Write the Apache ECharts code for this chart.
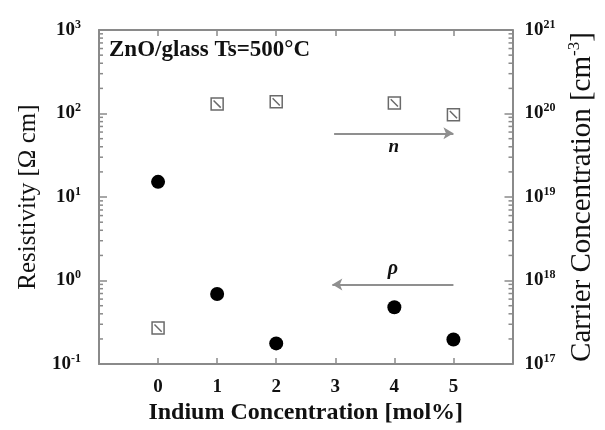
<!DOCTYPE html>
<html><head><meta charset="utf-8">
<script src="https://cdn.jsdelivr.net/npm/echarts@6/dist/echarts.min.js"></script>
<style>html,body{margin:0;padding:0;background:#fff}#c{width:605px;height:430px}</style>
</head><body><div id="c"></div>
<script>
// ---- data ----
const indium = [0, 1, 2, 4, 5];                       // mol%
const resistivity = [15.2, 0.69, 0.177, 0.48, 0.197]; // Ω cm
const carrier = [2.7e17, 1.30e20, 1.38e20, 1.34e20, 9.7e19]; // cm^-3
const xTicks = [0, 1, 2, 3, 4, 5];
const leftMinor = [];
const rightMinor = [];
[-1, 0, 1, 2].forEach(e => { for (let m = 2; m <= 9; m++) leftMinor.push(m * Math.pow(10, e)); });
[17, 18, 19, 20].forEach(e => { for (let m = 2; m <= 9; m++) rightMinor.push(m * Math.pow(10, e)); });
const nArrow = [[2.98, 5.8e19], [5.0, 5.8e19]];
const rhoArrow = [[5.0, 0.9], [2.95, 0.9]];

const serif = '"Liberation Serif","Times New Roman",serif';
const frame = '#8a8a8a';
const rich = {
  b: { fontFamily: serif, fontWeight: 'bold', fontSize: 19, color: '#111' },
  s: { fontFamily: serif, fontWeight: 'bold', fontSize: 12, color: '#111', padding: [0, 0, 11, 0] }
};
function pow10(v) {
  const e = Math.round(Math.log10(v));
  return '{b|10}{s|' + e + '}';
}
function minorTicks(side) {
  return function (params, api) {
    const cs = params.coordSys;
    const y = api.coord([0, api.value(0)])[1];
    const x0 = side === 'left' ? cs.x : cs.x + cs.width;
    const x1 = side === 'left' ? x0 + 4 : x0 - 4;
    return { type: 'line', shape: { x1: x0, y1: y, x2: x1, y2: y },
      style: { stroke: frame, lineWidth: 1.5 } };
  };
}

const chart = echarts.init(document.getElementById('c'), null, { renderer: 'canvas' });
const axisLine = { show: true, onZero: false, lineStyle: { color: frame, width: 2 } };
chart.setOption({
  animation: false,
  backgroundColor: '#fff',
  title: {
    text: 'ZnO/glass Ts=500°C', left: 104, top: 34,
    textStyle: { fontFamily: serif, fontWeight: 'bold', fontSize: 23, color: '#111' }
  },
  grid: { left: 99, right: 90, top: 30, bottom: 61, containLabel: false },
  xAxis: [{
    type: 'value', position: 'bottom', min: -1, max: 6, interval: 1,
    axisLine: axisLine, splitLine: { show: false },
    axisTick: { inside: true, length: 6, lineStyle: { color: frame, width: 1.5 } },
    axisLabel: { margin: 13, fontFamily: serif, fontWeight: 'bold', fontSize: 19, color: '#111',
      formatter: v => (xTicks.indexOf(v) >= 0 ? String(v) : '') },
    name: 'Indium Concentration [mol%]', nameLocation: 'middle', nameGap: 32,
    nameTextStyle: { fontFamily: serif, fontWeight: 'bold', fontSize: 24, color: '#111' }
  }, {
    type: 'value', position: 'top', min: -1, max: 6, interval: 1,
    axisLine: axisLine, splitLine: { show: false },
    axisTick: { inside: true, length: 6, lineStyle: { color: frame, width: 1.5 } },
    axisLabel: { show: false }
  }],
  yAxis: [{
    type: 'log', logBase: 10, position: 'left', min: 0.1, max: 1000,
    axisLine: axisLine, splitLine: { show: false },
    axisTick: { inside: true, length: 8, lineStyle: { color: frame, width: 1.5 } },
    axisLabel: { margin: 18, formatter: pow10, rich: rich },
    name: 'Resistivity [Ω cm]', nameLocation: 'middle', nameGap: 58, nameRotate: 90,
    nameTextStyle: { fontFamily: serif, fontSize: 25, color: '#111' }
  }, {
    type: 'log', logBase: 10, position: 'right', min: 1e17, max: 1e21,
    axisLine: axisLine, splitLine: { show: false },
    axisTick: { inside: true, length: 8, lineStyle: { color: frame, width: 1.5 } },
    axisLabel: { margin: 12, formatter: pow10, rich: rich },
    name: 'Carrier Concentration [cm{s|-3}]', nameLocation: 'middle', nameGap: 54, nameRotate: 90,
    nameTextStyle: { fontFamily: serif, fontSize: 29, color: '#111',
      rich: { s: { fontFamily: serif, fontSize: 17, color: '#111', padding: [0, 0, 15, 0] } } }
  }],
  series: [{
    type: 'custom', xAxisIndex: 0, yAxisIndex: 0, silent: true,
    data: leftMinor.map(v => [v]), encode: { y: 0 }, renderItem: minorTicks('left'), z: 1
  }, {
    type: 'custom', xAxisIndex: 0, yAxisIndex: 1, silent: true,
    data: rightMinor.map(v => [v]), encode: { y: 0 }, renderItem: minorTicks('right'), z: 1
  }, {
    name: 'rho', type: 'scatter', xAxisIndex: 0, yAxisIndex: 0,
    data: indium.map((x, i) => [x, resistivity[i]]),
    symbol: 'circle', symbolSize: 14, itemStyle: { color: '#000', opacity: 1 },
    markLine: {
      silent: true, symbol: ['none', 'arrow'], symbolSize: [9, 10],
      lineStyle: { color: '#8f8f8f', width: 2, type: 'solid' },
      label: { show: true, position: 'insideMiddleTop', formatter: 'ρ', distance: 6,
        fontFamily: serif, fontStyle: 'italic', fontWeight: 'bold', fontSize: 20, color: '#111' },
      data: [[{ coord: rhoArrow[0] }, { coord: rhoArrow[1] }]]
    }
  }, {
    name: 'n', type: 'scatter', xAxisIndex: 0, yAxisIndex: 1,
    data: indium.map((x, i) => [x, carrier[i]]),
    symbol: 'path://M0,0L10,0L10,10L0,10ZM2,2L8,8', symbolSize: 12,
    itemStyle: { color: 'rgba(0,0,0,0)', borderColor: '#6a6a6a', borderWidth: 1.5, opacity: 1 },
    markLine: {
      silent: true, symbol: ['none', 'arrow'], symbolSize: [9, 10],
      lineStyle: { color: '#8f8f8f', width: 2, type: 'solid' },
      label: { show: true, position: 'insideMiddleBottom', formatter: 'n', distance: 4,
        fontFamily: serif, fontStyle: 'italic', fontWeight: 'bold', fontSize: 19, color: '#111' },
      data: [[{ coord: nArrow[0] }, { coord: nArrow[1] }]]
    }
  }]
});
</script></body></html>
